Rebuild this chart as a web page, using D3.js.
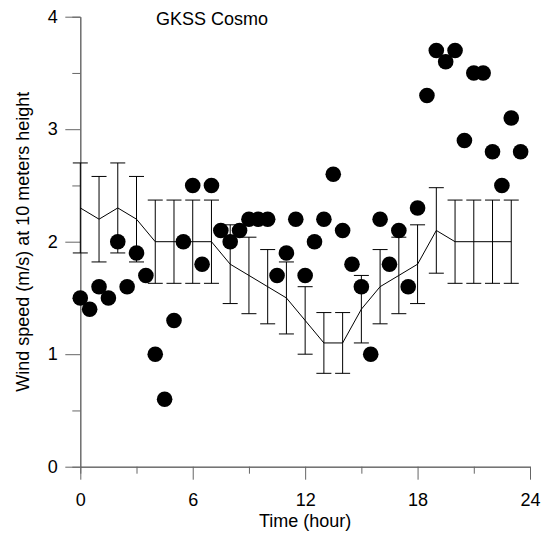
<!DOCTYPE html>
<html>
<head>
<meta charset="utf-8">
<script src="https://cdn.jsdelivr.net/npm/d3@7"></script>
<style>
  body { margin: 0; background: #fff; }
  text { font-family: Arial, "Liberation Sans", sans-serif; }
</style>
</head>
<body>
<script>
// observed wind speed every half hour
var obsHours = [0,0.5,1,1.5,2,2.5,3,3.5,4,4.5,5,5.5,6,6.5,7,7.5,8,8.5,9,9.5,10,10.5,11,11.5,
                12,12.5,13,13.5,14,14.5,15,15.5,16,16.5,17,17.5,18,18.5,19,19.5,20,20.5,21,21.5,22,22.5,23,23.5];
var obsSpeed = [1.5,1.4,1.6,1.5,2.0,1.6,1.9,1.7,1.0,0.6,1.3,2.0,2.5,1.8,2.5,2.1,2.0,2.1,2.2,2.2,2.2,1.7,1.9,2.2,
                1.7,2.0,2.2,2.6,2.1,1.8,1.6,1.0,2.2,1.8,2.1,1.6,2.3,3.3,3.7,3.6,3.7,2.9,3.5,3.5,2.8,2.5,3.1,2.8];

// model (GKSS Cosmo) hourly values with error
var modelHours = [0,1,2,3,4,5,6,7,8,9,10,11,12,13,14,15,16,17,18,19,20,21,22,23];
var modelSpeed = [2.3,2.2,2.3,2.2,2.0,2.0,2.0,2.0,1.8,1.7,1.6,1.5,1.3,1.1,1.1,1.4,1.6,1.7,1.8,2.1,2.0,2.0,2.0,2.0];
var modelErr   = [0.4,0.38,0.4,0.38,0.37,0.37,0.37,0.37,0.35,0.34,0.33,0.32,0.3,0.27,0.27,0.3,0.33,0.34,0.35,0.38,0.37,0.37,0.37,0.37];

var xTicks = [0,6,12,18,24];
var xMinor = [3,9,15,21];
var yTicks = [0,1,2,3,4];
var yMinor = [0.5,1.5,2.5,3.5];

var width = 544, height = 536;
var plotLeft = 80.3, plotRight = 530, plotTop = 16.7, plotBottom = 466.7;

var svg = d3.select('body').append('svg')
    .attr('width', width)
    .attr('height', height);

var x = d3.scaleLinear().domain([0, 24]).range([plotLeft, plotRight]);
var y = d3.scaleLinear().domain([0, 4]).range([plotBottom, plotTop]);

// axes
function styleAxis(g) {
    g.select('.domain').attr('stroke', '#666');
    g.selectAll('.tick line').attr('stroke', '#666');
    g.selectAll('.tick text').attr('font-size', '18px').attr('fill', '#000')
        .style('font-family', 'Arial, "Liberation Sans", sans-serif');
}

svg.append('g')
    .attr('transform', 'translate(0,' + plotBottom + ')')
    .call(d3.axisBottom(x).tickValues(xMinor).tickSize(7).tickFormat(''))
    .call(styleAxis);
svg.append('g')
    .attr('transform', 'translate(0,' + plotBottom + ')')
    .call(d3.axisBottom(x).tickValues(xTicks).tickSize(13).tickPadding(13.5).tickSizeOuter(0).tickFormat(d3.format('d')))
    .call(styleAxis);

svg.append('g')
    .attr('transform', 'translate(' + plotLeft + ',0)')
    .call(d3.axisLeft(y).tickValues(yMinor).tickSize(8).tickFormat(''))
    .call(styleAxis);
svg.append('g')
    .attr('transform', 'translate(' + plotLeft + ',0)')
    .call(d3.axisLeft(y).tickValues(yTicks).tickSize(15).tickPadding(7.5).tickSizeOuter(0).tickFormat(d3.format('d')))
    .call(styleAxis);

// observed dots
svg.append('g').selectAll('circle')
    .data(obsHours)
    .enter()
    .append('circle')
    .attr('cx', (d) => x(d))
    .attr('cy', (d, i) => y(obsSpeed[i]))
    .attr('r', 7.8)
    .attr('fill', '#000');

// model line
var line = d3.line()
    .x((d) => x(d))
    .y((d, i) => y(modelSpeed[i]));

svg.append('path')
    .datum(modelHours)
    .attr('d', line)
    .attr('fill', 'none')
    .attr('stroke', '#000')
    .attr('stroke-width', 1);

// error bars
var bars = svg.append('g').attr('stroke', '#000').attr('stroke-width', 1);
modelHours.forEach((h, i) => {
    var hi = y(modelSpeed[i] + modelErr[i]);
    var lo = y(modelSpeed[i] - modelErr[i]);
    bars.append('line').attr('x1', x(h)).attr('x2', x(h)).attr('y1', hi).attr('y2', lo);
    bars.append('line').attr('x1', x(h) - 7.5).attr('x2', x(h) + 7.5).attr('y1', hi).attr('y2', hi);
    bars.append('line').attr('x1', x(h) - 7.5).attr('x2', x(h) + 7.5).attr('y1', lo).attr('y2', lo);
});

// titles
svg.append('text')
    .attr('x', 156)
    .attr('y', 25)
    .attr('font-size', '18px')
    .text('GKSS Cosmo');

svg.append('text')
    .attr('x', (plotLeft + plotRight) / 2)
    .attr('y', 526.5)
    .attr('text-anchor', 'middle')
    .attr('font-size', '18px')
    .text('Time (hour)');

svg.append('text')
    .attr('transform', 'translate(29,' + ((plotTop + plotBottom) / 2) + ') rotate(-90)')
    .attr('text-anchor', 'middle')
    .attr('font-size', '18px')
    .text('Wind speed (m/s) at 10 meters height');
</script>
</body>
</html>
